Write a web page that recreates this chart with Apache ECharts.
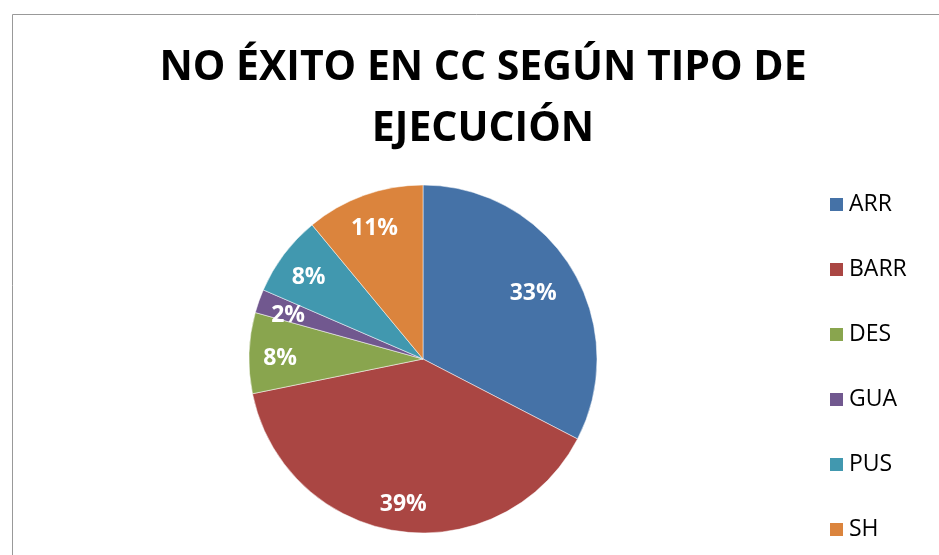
<!DOCTYPE html>
<html>
<head>
<meta charset="utf-8">
<script src="https://cdn.jsdelivr.net/npm/echarts@6/dist/echarts.min.js"></script>
<style>
  html, body { margin: 0; padding: 0; background: #fff; }
  #chart { width: 939px; height: 555px; }
</style>
</head>
<body>
<div id="chart"></div>
<script>
// tipos de ejecución y su parte (%)
var categories = ['ARR', 'BARR', 'DES', 'GUA', 'PUS', 'SH']
var values = [32.6, 39.2, 7.5, 2.2, 7.5, 11.0]
var colors = ['#4572A7', '#AA4643', '#89A54E', '#71588F', '#4198AF', '#DB843D']

var pieData = categories.map(function (name, i) {
  return { name: name, value: values[i] }
})

var myChart = echarts.init(document.getElementById('chart'))
myChart.setOption({
  animation: false,
  color: colors,
  title: {
    text: 'NO ÉXITO EN CC SEGÚN TIPO DE\nEJECUCIÓN',
    left: 478,
    top: 33,
    textAlign: 'center',
    textStyle: {
      fontFamily: 'Open Sans',
      fontWeight: 'bold',
      fontSize: 41,
      lineHeight: 61,
      color: '#000'
    }
  },
  graphic: [
    {
      type: 'rect',
      silent: true,
      shape: { x: 12.5, y: 14.5, width: 1000, height: 1000 },
      style: { fill: 'none', stroke: '#999', lineWidth: 1 }
    }
  ],
  legend: {
    orient: 'vertical',
    left: 823,
    top: 188,
    itemWidth: 15,
    itemHeight: 15,
    itemGap: 42,
    icon: 'rect',
    data: categories,
    textStyle: {
      fontFamily: 'Open Sans',
      fontSize: 23,
      lineHeight: 23,
      color: '#000'
    }
  },
  series: [
    {
      name: 'tipo',
      type: 'pie',
      center: [423, 359],
      radius: [0, 174],
      startAngle: 90,
      clockwise: true,
      silent: true,
      label: { show: false },
      labelLine: { show: false },
      itemStyle: { borderColor: '#fff', borderWidth: 0.5 },
      data: pieData
    },
    {
      // solo etiquetas, a ~140px del centro como en Excel
      name: 'etiquetas',
      type: 'pie',
      center: [423, 359],
      radius: [106, 174],
      startAngle: 90,
      clockwise: true,
      silent: true,
      itemStyle: { color: 'transparent' },
      label: {
        show: true,
        position: 'inside',
        formatter: function (p) { return Math.round(p.value) + '%' },
        fontFamily: 'Open Sans',
        fontWeight: 'bold',
        fontSize: 23,
        color: '#fff'
      },
      labelLayout: function (p) {
        // la etiqueta grande de ARR queda más cerca del centro
        if (p.dataIndex === 0) return { dx: -12, dy: 9 }
        return { dy: 4 }
      },
      labelLine: { show: false },
      data: pieData
    }
  ]
})
</script>
</body>
</html>
